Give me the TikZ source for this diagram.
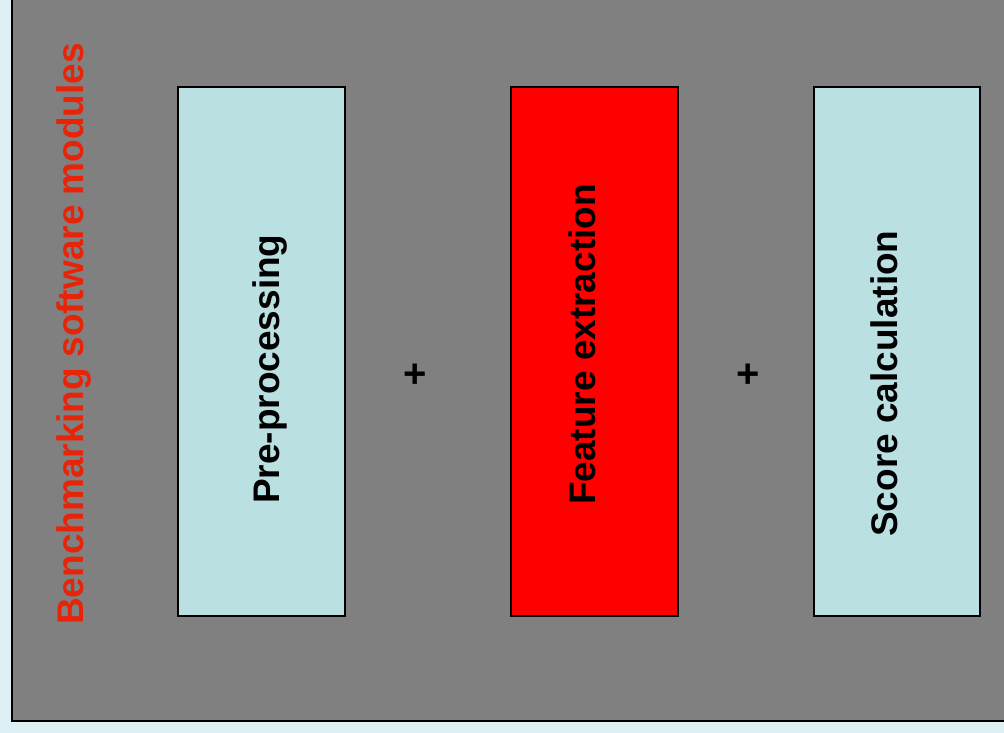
\documentclass[tikz,border=0pt]{standalone}
\usepackage{fontspec}
\setmainfont{Liberation Sans}
\definecolor{bgcyan}{RGB}{221,240,243}
\definecolor{panelgray}{RGB}{128,128,128}
\definecolor{boxblue}{RGB}{186,224,226}
\definecolor{boxred}{RGB}{255,0,0}
\definecolor{titlered}{RGB}{232,36,8}
\tikzset{
  modbox/.style={draw=black, line width=2pt},
  modlabel/.style={font=\bfseries\fontsize{37}{40}\selectfont, text=black, rotate=90, anchor=base west, inner sep=0pt},
  plussign/.style={font=\bfseries\fontsize{40}{44}\selectfont, text=black, inner sep=0pt}
}
\begin{document}
\begin{tikzpicture}[x=1pt,y=-1pt]
\useasboundingbox (0,0) rectangle (1004,733);
\fill[bgcyan] (0,0) rectangle (1004,733);
\draw[fill=panelgray, line width=2pt] (12,-10) rectangle (1014,721);
\node[font=\bfseries\fontsize{37}{40}\selectfont, text=titlered, rotate=90, anchor=base west, inner sep=0pt] (title) at (83,625) {Benchmarking software modules};
\draw[modbox, fill=boxblue] (178,87) rectangle (345,616);
\draw[modbox, fill=boxred] (511,87) rectangle (678,616);
\draw[modbox, fill=boxblue] (814,87) rectangle (980,616);
\node[modlabel] (pre) at (279,504) {Pre-processing};
\node[modlabel] (feat) at (595,505) {Feature extraction};
\node[modlabel] (score) at (897,537) {Score calculation};
\node[plussign] (p1) at (415,376) {+};
\node[plussign] (p2) at (748,376) {+};
\end{tikzpicture}
\end{document}
